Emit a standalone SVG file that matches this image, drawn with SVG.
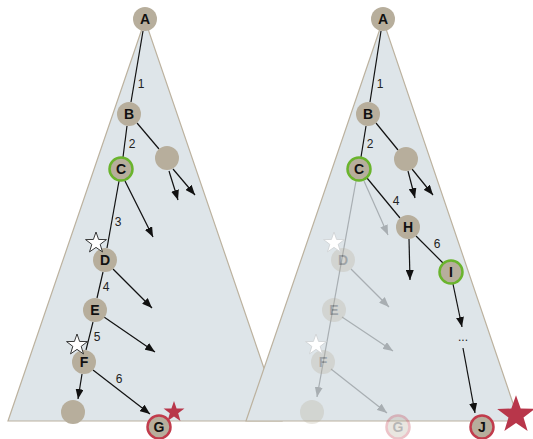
<svg xmlns="http://www.w3.org/2000/svg" width="533" height="439" viewBox="0 0 533 439">
  <style>
    .tri { fill: #dee5e9; stroke: #bcb29f; stroke-width: 1.2; }
    .n { fill: #b7ae9c; }
    .ring-g { fill: #b7ae9c; stroke: #6ab42d; stroke-width: 2.5; }
    .ring-r { fill: #b7ae9c; stroke: #c13c4c; stroke-width: 2.5; }
    .lbl { font-family: "Liberation Sans", Arial, sans-serif; font-weight: bold; font-size: 14px; fill: #111; text-anchor: middle; }
    .num { font-family: "Liberation Sans", Arial, sans-serif; font-size: 12px; fill: #222; text-anchor: middle; }
    .e { stroke: #111; stroke-width: 1.2; fill: none; }
    .ea { stroke: #111; stroke-width: 1.2; fill: none; marker-end: url(#arr); }
    .fe { stroke: #a8aeb2; stroke-width: 1.2; fill: none; marker-end: url(#arrg); }
    .fl { stroke: #a8aeb2; stroke-width: 1.2; fill: none; }
    .faded { opacity: 0.3; }
    .wstar { fill: #fff; stroke: #222; stroke-width: 0.9; }
    .wstar2 { fill: #fff; stroke: #d0d4d6; stroke-width: 0.9; }
    .rstar { fill: #b8364a; }
  </style>
  <defs>
    <marker id="arr" viewBox="0 0 10 8" refX="10" refY="4" markerWidth="10" markerHeight="8" markerUnits="userSpaceOnUse" orient="auto">
      <path d="M0,0 L10,4 L0,8 Z" fill="#111"/>
    </marker>
    <marker id="arrg" viewBox="0 0 10 8" refX="10" refY="4" markerWidth="10" markerHeight="8" markerUnits="userSpaceOnUse" orient="auto">
      <path d="M0,0 L10,4 L0,8 Z" fill="#a8aeb2"/>
    </marker>
    <path id="star" d="M0,-11 L2.59,-3.56 L10.46,-3.4 L4.18,1.36 L6.47,8.9 L0,4.4 L-6.47,8.9 L-4.18,1.36 L-10.46,-3.4 L-2.59,-3.56 Z"/>
  </defs>

  <!-- search trees -->
  <polygon class="tri" points="145,20 8,421 282,421"/>
  <polygon class="tri" points="383,20 246,421 519,421"/>

  <!-- connectors -->
  <g id="connectors">
    <!-- left tree -->
    <line class="e" x1="143" y1="31" x2="131" y2="102"/>
    <line class="e" x1="127" y1="126" x2="123" y2="157"/>
    <line class="e" x1="137" y1="123" x2="159" y2="149"/>
    <line class="ea" x1="169" y1="171" x2="178" y2="200"/>
    <line class="ea" x1="173" y1="169" x2="195" y2="195"/>
    <line class="e" x1="119" y1="181" x2="107" y2="248"/>
    <line class="ea" x1="125" y1="181" x2="153" y2="237"/>
    <line class="e" x1="103" y1="272" x2="97" y2="298"/>
    <line class="ea" x1="113" y1="269" x2="152" y2="308"/>
    <line class="e" x1="93" y1="322" x2="86" y2="350"/>
    <line class="ea" x1="104" y1="317" x2="155" y2="352"/>
    <line class="ea" x1="82" y1="374" x2="78" y2="399"/>
    <line class="ea" x1="93" y1="370" x2="150" y2="414"/>
    <!-- right tree, faded part -->
    <g class="faded-edges">
      <line class="fe" x1="356" y1="181" x2="317" y2="397"/>
      <line class="fe" x1="364" y1="181" x2="388" y2="235"/>
      <line class="fe" x1="351" y1="269" x2="389" y2="307"/>
      <line class="fe" x1="342" y1="317" x2="393" y2="351"/>
      <line class="fe" x1="331" y1="369" x2="387" y2="413"/>
    </g>
    <!-- right tree -->
    <line class="e" x1="381" y1="31" x2="370" y2="102"/>
    <line class="e" x1="366" y1="126" x2="361" y2="157"/>
    <line class="e" x1="376" y1="123" x2="398" y2="150"/>
    <line class="ea" x1="408" y1="171" x2="415" y2="198"/>
    <line class="ea" x1="412" y1="169" x2="433" y2="195"/>
    <line class="e" x1="367" y1="178" x2="400" y2="218"/>
    <line class="ea" x1="409" y1="239" x2="410" y2="280"/>
    <line class="e" x1="416" y1="236" x2="443" y2="263"/>
    <line class="ea" x1="453" y1="284" x2="462" y2="327"/>
    <line class="ea" x1="463" y1="348" x2="475" y2="413"/>
  </g>

  <!-- edge numbers -->
  <text class="num" x="141" y="88">1</text>
  <text class="num" x="132" y="148">2</text>
  <text class="num" x="118" y="226">3</text>
  <text class="num" x="106" y="291">4</text>
  <text class="num" x="97" y="341">5</text>
  <text class="num" x="119" y="383">6</text>
  <text class="num" x="380" y="88">1</text>
  <text class="num" x="370" y="148">2</text>
  <text class="num" x="396" y="205">4</text>
  <text class="num" x="437" y="248">6</text>
  <text class="num" x="463" y="341">...</text>

  <!-- left tree nodes -->
  <g id="L-A"><circle class="n" cx="145" cy="19" r="12"/><text class="lbl" x="145" y="24">A</text></g>
  <g id="L-B"><circle class="n" cx="129" cy="114" r="12"/><text class="lbl" x="129" y="119">B</text></g>
  <g id="L-B2"><circle class="n" cx="167" cy="158" r="12"/></g>
  <g id="L-C"><circle class="ring-g" cx="121" cy="169" r="11.5"/><text class="lbl" x="121" y="174">C</text></g>
  <g id="L-D"><circle class="n" cx="105" cy="260" r="12"/><text class="lbl" x="105" y="265">D</text></g>
  <g id="L-E"><circle class="n" cx="95" cy="310" r="12"/><text class="lbl" x="95" y="315">E</text></g>
  <g id="L-F"><circle class="n" cx="84" cy="362" r="12"/><text class="lbl" x="84" y="367">F</text></g>
  <g id="L-F2"><circle class="n" cx="73" cy="412" r="12"/></g>
  <g id="L-starD"><use href="#star" class="wstar" transform="translate(96,243)"/></g>
  <g id="L-starF"><use href="#star" class="wstar" transform="translate(77,345)"/></g>
  <g id="L-goal"><use href="#star" class="rstar" transform="translate(174,412)"/></g>
  <g id="L-G"><circle class="ring-r" cx="159" cy="427" r="11.5"/><text class="lbl" x="159" y="432">G</text></g>

  <!-- right tree, discarded nodes -->
  <g id="R-D" class="faded"><circle class="n" cx="343" cy="260" r="12"/><text class="lbl" x="343" y="265">D</text></g>
  <g id="R-E" class="faded"><circle class="n" cx="334" cy="310" r="12"/><text class="lbl" x="334" y="315">E</text></g>
  <g id="R-F" class="faded"><circle class="n" cx="323" cy="362" r="12"/><text class="lbl" x="323" y="367">F</text></g>
  <g id="R-F2" class="faded"><circle class="n" cx="312" cy="412" r="12"/></g>
  <g id="R-G" class="faded"><circle class="ring-r" cx="398" cy="427" r="11.5"/><text class="lbl" x="398" y="432">G</text></g>
  <g id="R-starD"><use href="#star" class="wstar2" transform="translate(334,243)"/></g>
  <g id="R-starF"><use href="#star" class="wstar2" transform="translate(316,345)"/></g>

  <!-- right tree nodes -->
  <g id="R-A"><circle class="n" cx="383" cy="19" r="12"/><text class="lbl" x="383" y="24">A</text></g>
  <g id="R-B"><circle class="n" cx="368" cy="114" r="12"/><text class="lbl" x="368" y="119">B</text></g>
  <g id="R-B2"><circle class="n" cx="406" cy="159" r="12"/></g>
  <g id="R-C"><circle class="ring-g" cx="359" cy="169" r="11.5"/><text class="lbl" x="359" y="174">C</text></g>
  <g id="R-H"><circle class="n" cx="408" cy="227" r="12"/><text class="lbl" x="408" y="232">H</text></g>
  <g id="R-I"><circle class="ring-g" cx="451" cy="272" r="11.5"/><text class="lbl" x="451" y="277">I</text></g>
  <g id="R-goal"><use href="#star" class="rstar" transform="translate(516,415) scale(1.8)"/></g>
  <g id="R-J"><circle class="ring-r" cx="482" cy="427" r="11.5"/><text class="lbl" x="482" y="432">J</text></g>
</svg>
